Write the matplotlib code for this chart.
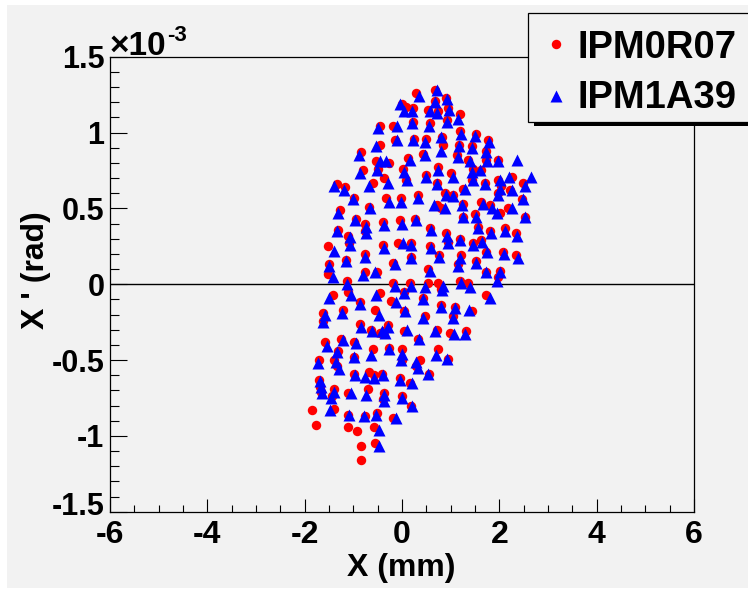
"""Phase-space scatter X' vs X for two beam position monitors (ROOT-style figure)."""
import matplotlib
matplotlib.use("Agg")
import matplotlib.pyplot as plt
from matplotlib.patches import Rectangle
from matplotlib.lines import Line2D
from matplotlib.transforms import offset_copy

# X (mm) / X' (1e-3 rad)
RED_X = [
    -0.01, 0.09, 0.22, -0.46, -0.19, 0.22, -0.15, 0.24, -0.46, -0.84, -0.53, -0.26, 0.12,
    -0.50, -0.80, 0.02, -0.60, -0.36, 0.09, -1.34, -1.17, -0.98, -0.67, -0.32, -0.03,
    -1.28, -0.94, -0.77, -0.76, -0.39, -0.05, 0.26, -1.32, -1.11, -1.08, -1.52, -0.39,
    -0.08, 0.19, 0.19, -0.77, -1.15, -1.49, -0.51, -0.19, -1.52, -0.77,
    -1.13, -1.11, -0.19, 0.16, 0.05, -1.42, -0.46, -0.87, -0.22, -1.22, -1.63, -1.62,
    -0.56, 0.05, -0.87, -0.63, -0.46, -0.29, -0.36, 0.05, -1.59, -1.25, -0.98, -1.32,
    -1.39, -1.33, -0.98, -0.60, -0.26, -0.01, -0.01, -1.70, -1.70, -1.68, -1.66, -1.39,
    -1.44, -0.98, -0.68, -0.58, -0.41, -1.11, -0.70, -0.37, -0.39, -0.05, 0.16, -0.01,
    0.19, -1.85, -1.40, -1.11, -0.77, -0.51, -0.19, -1.76, -1.10, -0.92, -0.58, -0.84,
    -0.56, -0.84,
    0.29, 0.67, 0.67, 0.91, 0.94, 0.53, 0.73, 1.19, 0.92, 0.57, 1.19, 1.53, 0.83, 0.50,
    1.77, 0.84, 1.17, 1.43, 1.73, 0.43, 1.12, 1.36, 1.73, 1.97, 0.74, 1.46, 1.63, 1.01,
    0.50, 1.97, 2.25, 1.43, 1.70, 0.71, 1.25, 2.49, 2.04, 2.21, 1.97, 0.88, 1.05, 0.33,
    1.25, 1.63, 1.80, 2.46, 0.71, 0.81, 2.18, 2.01, 2.52, 1.25, 1.49, 0.57, 0.91,
    1.56, 1.80, 2.11, 2.35, 1.19, 0.94, 1.46, 1.63, 0.57, 0.77, 1.73, 2.08, 2.35, 1.22,
    1.53, 1.15, 0.53, 1.73, 2.01,
    0.53, 0.74, 0.81, 1.19, 1.36, 1.97, 1.73, 0.43, 0.81, 1.08, 1.05, 1.43, 0.47, 0.71,
    0.98, 1.31, 0.33, 0.74, 0.94, 0.36, 0.29, 0.55,
]
RED_Y = [
    1.19, 1.17, 1.16, 1.04, 1.04, 1.07, 0.95, 0.96, 0.92, 0.87, 0.81, 0.80, 0.83,
    0.76, 0.75, 0.76, 0.67, 0.70, 0.69, 0.66, 0.64, 0.57, 0.51, 0.57, 0.57,
    0.49, 0.43, 0.40, 0.35, 0.41, 0.42, 0.43, 0.36, 0.32, 0.27, 0.25, 0.26,
    0.27, 0.27, 0.18, 0.20, 0.16, 0.13, 0.08, 0.14, 0.07, 0.08,
    0.02, -0.05, 0.01, 0.01, -0.05, -0.07, -0.06, -0.12, -0.11, -0.17, -0.19, -0.24,
    -0.17, -0.18, -0.26, -0.30, -0.32, -0.27, -0.31, -0.31, -0.38, -0.36, -0.38, -0.44,
    -0.50, -0.54, -0.48, -0.43, -0.42, -0.43, -0.50, -0.50, -0.63, -0.68, -0.71, -0.69,
    -0.74, -0.59, -0.58, -0.60, -0.59, -0.72, -0.69, -0.72, -0.76, -0.62, -0.65, -0.74,
    -0.80, -0.83, -0.82, -0.86, -0.87, -0.85, -0.88, -0.93, -0.94, -0.97, -0.94, -1.07,
    -1.05, -1.16,
    1.26, 1.28, 1.21, 1.23, 1.16, 1.15, 1.14, 1.12, 1.08, 1.06, 1.01, 0.99, 0.97, 0.96,
    0.95, 0.92, 0.92, 0.91, 0.88, 0.86, 0.85, 0.82, 0.82, 0.82, 0.77, 0.76, 0.75, 0.73,
    0.72, 0.69, 0.71, 0.69, 0.67, 0.67, 0.63, 0.67, 0.65, 0.62, 0.60, 0.60, 0.59, 0.59,
    0.53, 0.54, 0.52, 0.56, 0.52, 0.50, 0.50, 0.47, 0.44, 0.44, 0.46, 0.37, 0.34,
    0.38, 0.35, 0.37, 0.34, 0.30, 0.28, 0.27, 0.29, 0.25, 0.19, 0.21, 0.21, 0.19, 0.19,
    0.15, 0.13, 0.10, 0.08, 0.09,
    0.01, 0.01, -0.03, 0.02, 0.01, 0.05, -0.07, -0.09, -0.14, -0.15, -0.21, -0.18, -0.21, -0.30,
    -0.32, -0.31, -0.36, -0.43, -0.49, -0.50, -0.54, -0.59,
]

BLUE_X = [
    -0.05, 0.05, 0.20, -0.50, -0.10, 0.20, -0.10, 0.22, -0.53, -0.89, -0.46, -0.32, 0.16,
    -0.51, -0.87, 0.04, -0.67, -0.28, 0.11, -1.39, -1.20, -1.01, -0.65, -0.26, -0.03,
    -1.32, -0.96, -0.73, -0.73, -0.36, -0.01, 0.28, -1.33, -1.06, -1.06, -1.40, -0.37,
    0.02, 0.18, 0.18, -0.77, -1.15, -1.49, -0.55, -0.15, -1.42, -0.80,
    -1.13, -1.04, -0.15, 0.19, 0.04, -1.51, -0.53, -0.87, -0.12, -1.23, -1.59, -1.63,
    -0.48, 0.06, -0.85, -0.62, -0.41, -0.29, -0.34, 0.11, -1.54, -1.22, -0.94, -1.33,
    -1.35, -1.30, -0.99, -0.63, -0.26, -0.01, -0.03, -1.72, -1.68, -1.66, -1.65, -1.40,
    -1.46, -0.96, -0.76, -0.58, -0.39, -1.04, -0.73, -0.36, -0.37, -0.05, 0.20, 0.00,
    0.20, -1.47, -1.08, -0.78, -0.53, -0.12, -0.48, -0.48,
    0.35, 0.72, 0.68, 0.92, 0.97, 0.58, 0.72, 1.15, 0.93, 0.55, 1.22, 1.49, 0.81, 0.47,
    1.79, 0.81, 1.17, 1.44, 1.72, 0.47, 1.15, 1.39, 1.74, 1.97, 2.36, 0.74, 1.43, 1.61,
    1.05, 0.50, 2.01, 2.20, 2.66, 1.45, 1.70, 0.71, 1.29, 2.52, 2.01, 2.25, 1.97, 0.91,
    1.05, 0.33, 1.24, 1.66, 1.84, 2.49, 0.65, 0.88, 2.25, 1.95, 2.53, 1.26, 1.53,
    0.60, 0.92, 1.56, 1.82, 2.11, 2.36, 1.19, 0.94, 1.46, 1.65, 0.60, 0.77, 1.74, 2.09,
    2.39, 1.19, 1.53, 1.15, 0.58, 1.72, 2.02,
    0.47, 0.84, 0.83, 1.22, 1.39, 1.95, 1.80, 0.43, 0.81, 1.08, 1.05, 1.38, 0.43, 0.67,
    1.06, 1.29, 0.35, 0.69, 0.92, 0.29, 0.33, 0.53,
]
BLUE_Y = [
    1.19, 1.14, 1.14, 1.03, 1.04, 1.06, 0.95, 0.95, 0.91, 0.85, 0.81, 0.81, 0.82,
    0.75, 0.73, 0.74, 0.65, 0.67, 0.69, 0.65, 0.62, 0.56, 0.50, 0.54, 0.54,
    0.47, 0.42, 0.38, 0.34, 0.39, 0.40, 0.42, 0.35, 0.31, 0.26, 0.22, 0.24,
    0.27, 0.26, 0.17, 0.18, 0.15, 0.12, 0.08, 0.13, 0.05, 0.06,
    0.00, -0.07, -0.01, -0.01, -0.06, -0.09, -0.07, -0.13, -0.12, -0.19, -0.20, -0.25,
    -0.20, -0.18, -0.28, -0.31, -0.31, -0.28, -0.32, -0.30, -0.41, -0.37, -0.39, -0.45,
    -0.51, -0.56, -0.48, -0.47, -0.43, -0.46, -0.50, -0.52, -0.64, -0.68, -0.72, -0.71,
    -0.75, -0.60, -0.61, -0.62, -0.60, -0.72, -0.73, -0.73, -0.77, -0.63, -0.65, -0.75,
    -0.80, -0.83, -0.86, -0.87, -0.86, -0.88, -0.96, -1.07,
    1.24, 1.28, 1.20, 1.22, 1.15, 1.14, 1.13, 1.09, 1.07, 1.04, 0.99, 0.98, 0.97, 0.94,
    0.94, 0.88, 0.91, 0.90, 0.87, 0.85, 0.84, 0.81, 0.81, 0.81, 0.82, 0.75, 0.74, 0.75,
    0.71, 0.71, 0.69, 0.71, 0.71, 0.69, 0.66, 0.66, 0.63, 0.65, 0.63, 0.62, 0.59, 0.59,
    0.58, 0.57, 0.52, 0.53, 0.50, 0.56, 0.52, 0.50, 0.50, 0.47, 0.44, 0.44, 0.44,
    0.36, 0.32, 0.37, 0.34, 0.35, 0.32, 0.29, 0.27, 0.26, 0.28, 0.24, 0.18, 0.21, 0.20,
    0.17, 0.17, 0.14, 0.12, 0.09, 0.08, 0.08,
    -0.02, -0.01, -0.04, 0.01, -0.02, 0.02, -0.09, -0.10, -0.15, -0.16, -0.22, -0.17, -0.22, -0.31,
    -0.33, -0.33, -0.36, -0.47, -0.49, -0.51, -0.55, -0.59,
]

SERIES = ["IPM0R07", "IPM1A39"]
X_TICKS = [-6, -4, -2, 0, 2, 4, 6]
Y_TICKS = [-1.5, -1.0, -0.5, 0.0, 0.5, 1.0, 1.5]
Y_TICK_LABELS = ["-1.5", "-1", "-0.5", "0", "0.5", "1", "1.5"]

W, H = 748, 591
BG = "#f2f2f2"
FONT = "Liberation Sans"
RED_MS, BLUE_MS = 6.8, 8.2


def fx(px):
    return px / W


def fy(py):
    return 1 - py / H


def main():
    plt.rcParams["font.family"] = [FONT, "DejaVu Sans"]
    plt.rcParams["font.weight"] = "bold"

    fig = plt.figure(figsize=(W / 100, H / 100), dpi=100, facecolor="white")
    fig.patches.append(Rectangle((fx(7), fy(588)), fx(741), 583 / H,
                                 transform=fig.transFigure, facecolor=BG,
                                 edgecolor="none", zorder=-10))

    ax = fig.add_axes([fx(110), fy(511.7), fx(694 - 110), (511.7 - 56.7) / H])
    ax.set_facecolor(BG)

    ax.plot(RED_X, RED_Y, "o", color="#ff0000", ms=RED_MS, mec="none", zorder=3)
    ax.plot(BLUE_X, BLUE_Y, "^", color="#0000ff", ms=BLUE_MS, mec="none", zorder=4)
    ax.axhline(0, color="black", lw=1.0, zorder=2)

    ax.set_xlim(-6, 6)
    ax.set_ylim(-1.5, 1.5)
    ax.set_xticks(X_TICKS)
    ax.set_xticklabels([str(v) for v in X_TICKS])
    ax.set_xticks([v / 2 for v in range(-12, 13)], minor=True)
    ax.set_yticks(Y_TICKS)
    # lowest label is drawn by hand a few pixels higher so it clears the "-6"
    ax.set_yticklabels([""] + Y_TICK_LABELS[1:])
    ax.set_yticks([v / 10 for v in range(-15, 16)], minor=True)

    ax.tick_params(axis="x", which="major", direction="in", length=9.5, width=0.8,
                   pad=6, labelsize=23)
    ax.tick_params(axis="x", which="minor", direction="in", length=5, width=0.8)
    ax.tick_params(axis="y", which="major", direction="in", length=12.5, width=0.8,
                   pad=4, labelsize=22)
    ax.tick_params(axis="y", which="minor", direction="in", length=6.2, width=0.8)
    for lab in ax.get_xticklabels() + ax.get_yticklabels():
        lab.set_fontweight("bold")
    for sp in ax.spines.values():
        sp.set_linewidth(0.9)

    low = offset_copy(ax.transData, fig=fig, x=-5.6, y=5, units="dots")
    ax.text(-6, Y_TICKS[0], Y_TICK_LABELS[0], transform=low, ha="right", va="center",
            fontsize=22, fontweight="bold", clip_on=False)

    fig.text(fx(401), fy(568), "X (mm)", ha="center", va="center",
             fontsize=23, fontweight="bold")
    fig.text(fx(36), fy(270), "X ' (rad)", ha="center", va="center",
             rotation=90, fontsize=23, fontweight="bold")
    fig.text(fx(110), fy(55), "\u00d710", ha="left", va="baseline",
             fontsize=24, fontweight="bold")
    fig.text(fx(167), fy(41), "-3", ha="left", va="baseline",
             fontsize=16, fontweight="bold")

    # legend box with shadow, running off the right edge like the original
    fig.patches.append(Rectangle((fx(534), fy(126)), fx(300), 6 / H,
                                 transform=fig.transFigure, facecolor="black",
                                 edgecolor="none", zorder=5))
    fig.patches.append(Rectangle((fx(528), fy(122)), fx(300), 109 / H,
                                 transform=fig.transFigure, facecolor=BG,
                                 edgecolor="black", lw=0.9, zorder=6))
    fig.lines.append(Line2D([fx(556)], [fy(44)], marker="o", color="#ff0000",
                            ms=RED_MS, mec="none", transform=fig.transFigure, zorder=7))
    fig.lines.append(Line2D([fx(556)], [fy(96)], marker="^", color="#0000ff",
                            ms=BLUE_MS, mec="none", transform=fig.transFigure, zorder=7))
    fig.text(fx(578), fy(48), SERIES[0], ha="left", va="center",
             fontsize=27.5, fontweight="bold", zorder=7)
    fig.text(fx(578), fy(98), SERIES[1], ha="left", va="center",
             fontsize=27.5, fontweight="bold", zorder=7)

    fig.savefig("out.png", dpi=100, facecolor="white")


if __name__ == "__main__":
    main()
